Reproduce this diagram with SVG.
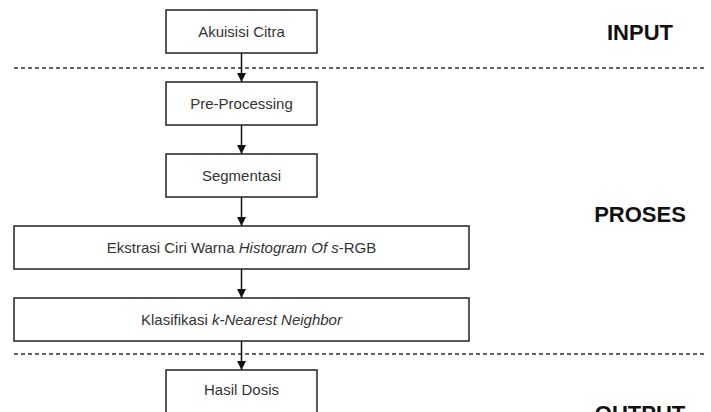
<svg xmlns="http://www.w3.org/2000/svg" width="711" height="412" viewBox="0 0 711 412">
<style>
.box{fill:#fff;stroke:#222;stroke-width:1.5}
.t{font-family:"Liberation Sans",Arial,sans-serif;font-size:15px;fill:#333;text-anchor:middle}
.lbl{font-family:"Liberation Sans",Arial,sans-serif;font-size:22px;font-weight:bold;fill:#111;text-anchor:middle}
.dash{stroke:#333;stroke-width:1.3;stroke-dasharray:4 3;fill:none}
.c{stroke:#111;stroke-width:1.5;fill:none;marker-end:url(#ah)}
</style>
<defs>
<marker id="ah" markerWidth="10" markerHeight="10" refX="9" refY="5" orient="auto" markerUnits="userSpaceOnUse">
<path d="M0,0.5 L9,5 L0,9.5 Z" fill="#111"/>
</marker>
</defs>
<rect width="711" height="412" fill="#fff"/>
<g id="separators">
<line class="dash" x1="14" y1="68" x2="706" y2="68"/>
<line class="dash" x1="14" y1="354" x2="706" y2="354"/>
</g>
<g id="connectors">
<line class="c" x1="241.5" y1="53" x2="241.5" y2="82"/>
<line class="c" x1="241.5" y1="125" x2="241.5" y2="154"/>
<line class="c" x1="241.5" y1="197" x2="241.5" y2="226"/>
<line class="c" x1="241.5" y1="269" x2="241.5" y2="298"/>
<line class="c" x1="241.5" y1="341" x2="241.5" y2="370"/>
</g>
<g id="akuisisi">
<rect class="box" x="166" y="10" width="151" height="43"/>
<text class="t" x="241.5" y="37">Akuisisi Citra</text>
</g>
<g id="preprocessing">
<rect class="box" x="166" y="82" width="151" height="43"/>
<text class="t" x="241.5" y="109">Pre-Processing</text>
</g>
<g id="segmentasi">
<rect class="box" x="166" y="154" width="151" height="43"/>
<text class="t" x="241.5" y="181">Segmentasi</text>
</g>
<g id="ekstrasi">
<rect class="box" x="14" y="226" width="455" height="43"/>
<text class="t" x="241.5" y="253">Ekstrasi Ciri Warna <tspan font-style="italic">Histogram Of s</tspan>-RGB</text>
</g>
<g id="klasifikasi">
<rect class="box" x="14" y="298" width="455" height="43"/>
<text class="t" x="241.5" y="325">Klasifikasi <tspan font-style="italic">k-Nearest Neighbor</tspan></text>
</g>
<g id="hasil">
<rect class="box" x="166" y="370" width="151" height="43"/>
<text class="t" x="241.5" y="395">Hasil Dosis</text>
</g>
<g id="labels">
<text class="lbl" x="640" y="40">INPUT</text>
<text class="lbl" x="640" y="222">PROSES</text>
<text class="lbl" x="640" y="421">OUTPUT</text>
</g>
</svg>
